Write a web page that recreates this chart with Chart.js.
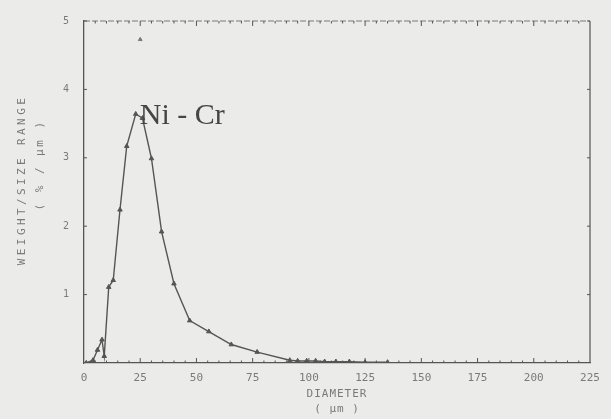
<!DOCTYPE html>
<html>
<head>
<meta charset="utf-8">
<script src="https://cdn.jsdelivr.net/npm/chart.js@4.4.1/dist/chart.umd.min.js"></script>
<style>
  html, body { margin: 0; padding: 0; background: #ebebea; }
  #wrap { width: 611px; height: 419px; }
</style>
</head>
<body>
<div id="wrap"><canvas id="grafica" width="611" height="419"></canvas></div>
<script>
// particle size distribution, Ni-Cr powder
const diameter = [1, 4, 6, 8, 9, 11, 13, 16, 19, 23, 26, 30, 34.5, 40, 47, 55.5, 65.5, 77, 91.5, 95, 99, 103, 107, 112, 118, 125, 135];
const weight   = [0, 0.04, 0.19, 0.34, 0.1, 1.11, 1.21, 2.24, 3.17, 3.64, 3.58, 2.99, 1.92, 1.16, 0.62, 0.46, 0.27, 0.16, 0.04, 0.03, 0.03, 0.03, 0.02, 0.02, 0.02, 0.01, 0.01];

// stray marker near the top of the plot
const strayX = [25];
const strayY = [4.73];

const xTicks = [0, 25, 50, 75, 100, 125, 150, 175, 200, 225];
const yTicks = [1, 2, 3, 4, 5];

const seriesLabel = 'Ni - Cr';
const xTitle = ['DIAMETER', '( µm )'];
const yTitle = ['WEIGHT/SIZE RANGE', '( % / µm )'];

const ink = '#555555';
const faint = '#7a7a7a';
const mono = '"DejaVu Sans Mono", monospace';

const points = diameter.map((d, i) => ({ x: d, y: weight[i] }));
const stray = strayX.map((d, i) => ({ x: d, y: strayY[i] }));

// frame, inward ticks, axis titles and the curve label
const plotterBits = {
  id: 'plotterBits',
  afterDraw(chart) {
    const ctx = chart.ctx;
    const a = chart.chartArea;
    const xs = chart.scales.x, ys = chart.scales.y;
    ctx.save();
    ctx.strokeStyle = ink;
    ctx.lineWidth = 1.2;
    // right side
    ctx.beginPath();
    ctx.moveTo(a.right, a.top);
    ctx.lineTo(a.right, a.bottom);
    ctx.stroke();
    // top side, plotter dashes
    ctx.strokeStyle = faint;
    ctx.setLineDash([6, 2]);
    ctx.beginPath();
    ctx.moveTo(a.left, a.top);
    ctx.lineTo(a.right, a.top);
    ctx.stroke();
    ctx.setLineDash([]);

    // minor ticks along x (every 5), major every 25
    ctx.strokeStyle = ink;
    ctx.lineWidth = 1;
    for (let v = 5; v < xs.max; v += 5) {
      const px = xs.getPixelForValue(v);
      const len = v % 25 === 0 ? 5 : 2.5;
      ctx.beginPath();
      ctx.moveTo(px, a.bottom);
      ctx.lineTo(px, a.bottom - len);
      ctx.moveTo(px, a.top);
      ctx.lineTo(px, a.top + len);
      ctx.stroke();
    }
    yTicks.forEach(v => {
      const py = ys.getPixelForValue(v);
      ctx.beginPath();
      ctx.moveTo(a.left, py);
      ctx.lineTo(a.left + 3, py);
      ctx.moveTo(a.right, py);
      ctx.lineTo(a.right - 3, py);
      ctx.stroke();
    });

    // axis titles
    ctx.fillStyle = faint;
    ctx.font = '11px ' + mono;
    ctx.textAlign = 'center';
    ctx.textBaseline = 'middle';
    const cx = (a.left + a.right) / 2;
    ctx.letterSpacing = '1px';
    ctx.fillText(xTitle[0], cx, 394);
    ctx.fillText(xTitle[1], cx, 409);

    ctx.save();
    ctx.translate(22, 180);
    ctx.rotate(-Math.PI / 2);
    ctx.letterSpacing = '3.4px';
    ctx.fillText(yTitle[0], 0, 0);
    ctx.restore();
    ctx.save();
    ctx.translate(40, 165);
    ctx.rotate(-Math.PI / 2);
    ctx.letterSpacing = '2.5px';
    ctx.fillText(yTitle[1], 0, 0);
    ctx.restore();
    ctx.letterSpacing = '0px';

    // curve label next to the peak
    let k = 0;
    weight.forEach((w, i) => { if (w > weight[k]) k = i; });
    ctx.font = '30px "Liberation Serif", serif';
    ctx.fillStyle = '#454545';
    ctx.textAlign = 'left';
    ctx.textBaseline = 'alphabetic';
    ctx.fillText(seriesLabel, xs.getPixelForValue(diameter[k]) + 4, ys.getPixelForValue(weight[k]) + 10);
    ctx.restore();
  }
};

const graph = document.querySelector('#grafica');

new Chart(graph, {
  type: 'scatter',
  data: {
    datasets: [
      {
        label: seriesLabel,
        data: points,
        showLine: true,
        borderColor: ink,
        borderWidth: 1.4,
        backgroundColor: ink,
        pointStyle: 'triangle',
        pointRadius: 2.6,
        pointBorderWidth: 1,
        tension: 0
      },
      {
        label: 'stray',
        data: stray,
        showLine: false,
        borderColor: faint,
        backgroundColor: faint,
        pointStyle: 'triangle',
        pointRadius: 2.2
      }
    ]
  },
  options: {
    responsive: false,
    animation: false,
    layout: { padding: { top: 13, right: 21, left: 0, bottom: 0 } },
    plugins: { legend: { display: false }, tooltip: { enabled: false } },
    scales: {
      x: {
        type: 'linear',
        min: 0,
        max: 225,
        afterFit: s => { s.height = 56; },
        afterBuildTicks: s => { s.ticks = xTicks.map(v => ({ value: v })); },
        ticks: { color: faint, font: { family: mono, size: 11 }, padding: 9, maxRotation: 0 },
        grid: { display: true, drawOnChartArea: false, drawTicks: false },
        border: { color: ink, width: 1.3 }
      },
      y: {
        min: 0,
        max: 5,
        afterFit: s => { s.width = 84; },
        afterBuildTicks: s => { s.ticks = yTicks.map(v => ({ value: v })); },
        ticks: { color: faint, font: { family: mono, size: 10 }, padding: 15 },
        grid: { display: true, drawOnChartArea: false, drawTicks: false },
        border: { color: ink, width: 1.3 }
      }
    }
  },
  plugins: [plotterBits]
});
</script>
</body>
</html>
